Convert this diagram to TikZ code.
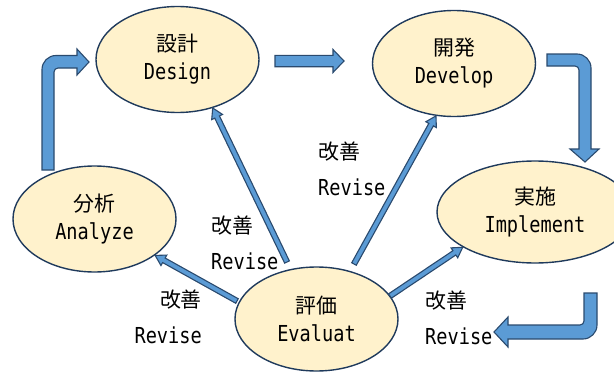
\documentclass[tikz,border=0pt]{standalone}
\usepackage{fontspec}
\usetikzlibrary{shapes.geometric,calc}
\newfontfamily\jp[Scale=0.95]{Noto Sans CJK JP}
\newfontfamily\lat[FakeStretch=0.846]{DejaVu Sans Mono}

\definecolor{ellfill}{HTML}{FFF2CC}
\definecolor{ellline}{HTML}{1F3A5C}
\definecolor{arrfill}{HTML}{5B9BD5}
\definecolor{arrline}{HTML}{2A4A6E}

\tikzset{
  phase/.style={ellipse, draw=ellline, line width=1.4pt, fill=ellfill,
    minimum width=163pt, minimum height=106pt, inner sep=0pt, align=center,
    font=\fontsize{22}{28}\selectfont},
  revlabel/.style={inner sep=0pt, font=\fontsize{22}{36}\selectfont},
  blockarr/.style={fill=arrfill, draw=arrline, line width=1.1pt, line join=miter},
}

% straight block arrow from #1 to #2
\newcommand\thinarrow[2]{%
  \path let \p1=(#1), \p2=(#2),
    \n1={atan2(\y2-\y1,\x2-\x1)}, \n2={veclen(\x2-\x1,\y2-\y1)} in
    \pgfextra{\xdef\arang{\n1}\xdef\arlen{\n2}};
  \begin{scope}[shift={(#1)}, rotate=\arang]
    \filldraw[blockarr] (0,-2.6) -- ({\arlen-10},-2.6) -- ({\arlen-10},-6)
      -- (\arlen,0) -- ({\arlen-10},6) -- ({\arlen-10},2.6) -- (0,2.6) -- cycle;
  \end{scope}}

\begin{document}
\begin{tikzpicture}[x=1pt, y=-1pt]
\useasboundingbox (0,0) rectangle (614,372);

% phases of the cycle
\node[phase] (design)    at (177.5,59.5) {\jp 設計\\\lat Design};
\node[phase] (develop)   at (454,63.5)   {\jp 開発\\\lat Develop};
\node[phase] (analyze)   at (94.5,219)   {\jp 分析\\\lat Analyze};
\node[phase, minimum width=196pt, minimum height=102pt] (implement) at (535,212) {\jp 実施\\\lat Implement};
\node[phase, minimum height=104pt] (evaluate) at (316.5,319) {\jp 評価\\\lat Evaluat};

% main flow: bent and straight block arrows
\filldraw[blockarr] (42,170) -- (42,69.5) .. controls (42,61.8) and (48.2,55.5) .. (56,55.5)
  -- (77,55.5) -- (77,49) -- (89,62) -- (77,75) -- (77,68) -- (58,68)
  .. controls (55.8,68) and (54,69.8) .. (54,72) -- (54,170) -- cycle;
\filldraw[blockarr] (275,55.3) -- (333,55.3) -- (333,49.5) -- (344,61) -- (333,72.5)
  -- (333,66.7) -- (275,66.7) -- cycle;
\filldraw[blockarr] (547,54) -- (577,54) .. controls (584.7,54) and (591,60.3) .. (591,68)
  -- (591,149) -- (599,149) -- (585,162) -- (570,149) -- (579,149) -- (579,70)
  .. controls (579,67.8) and (577.2,66) .. (575,66) -- (547,66) -- cycle;
\filldraw[blockarr] (584,293) -- (597,293) -- (597,325) .. controls (597,332.7) and (590.7,339) .. (583,339)
  -- (508,339) -- (508,347) -- (494,332) -- (508,317) -- (508,325) -- (580,325)
  .. controls (582.2,325) and (584,323.2) .. (584,321) -- cycle;

% feedback arrows from the evaluation phase
\coordinate (fbA) at (287,262);
\coordinate (fbB) at (354,264);
\coordinate (fbC) at (237,301);
\coordinate (fbD) at (390,296);
\thinarrow{fbA}{design.-54.6}
\thinarrow{fbB}{develop.-109.2}
\thinarrow{fbC}{analyze.-31.7}
\thinarrow{fbD}{implement.206.9}

% feedback labels
\node[revlabel, align=left, anchor=west]  (labA) at (211,242.5) {\jp 改善\\\lat Revise};
\node[revlabel, align=left, anchor=west]  (labB) at (318,168.5) {\jp 改善\\\lat Revise};
\node[revlabel, align=right, anchor=east] (labC) at (202,317)   {\jp 改善\\\lat Revise};
\node[revlabel, align=left, anchor=west]  (labD) at (425,317.5) {\jp 改善\\\lat Revise};
\end{tikzpicture}
\end{document}
